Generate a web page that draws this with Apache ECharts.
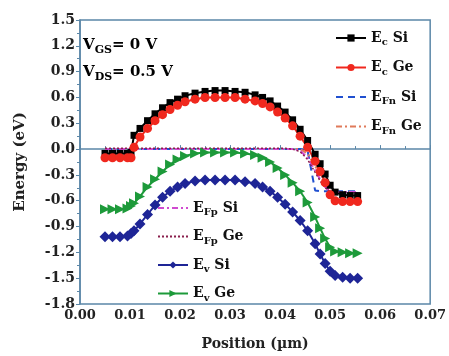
<!DOCTYPE html>
<html>
<head>
<meta charset="utf-8">
<script src="https://cdn.jsdelivr.net/npm/echarts@6/dist/echarts.min.js"></script>
<style>
  html, body { margin: 0; padding: 0; background: #fff; }
  #chart { width: 449px; height: 356px; }
</style>
</head>
<body>
<div id="chart"></div>
<script>
// positions along the channel (um), shared by all curves
const positions = [0.005, 0.0065, 0.008, 0.0095, 0.0102, 0.0108, 0.012, 0.0135, 0.015, 0.0165,
  0.018, 0.0195, 0.021, 0.023, 0.025, 0.027, 0.029, 0.031, 0.033, 0.035,
  0.0365, 0.038, 0.0395, 0.041, 0.0425, 0.044, 0.0455, 0.047, 0.048, 0.049,
  0.050, 0.051, 0.0525, 0.054, 0.0555];

const ecSi = [-0.05, -0.05, -0.05, -0.05, -0.04, 0.16, 0.24, 0.33, 0.41, 0.48,
  0.54, 0.58, 0.62, 0.65, 0.67, 0.68, 0.68, 0.67, 0.66, 0.63,
  0.60, 0.56, 0.50, 0.43, 0.34, 0.23, 0.10, -0.06, -0.17, -0.29,
  -0.42, -0.50, -0.53, -0.54, -0.54];
const ecGe = [-0.10, -0.10, -0.10, -0.10, -0.10, 0.02, 0.14, 0.24, 0.33, 0.40,
  0.46, 0.51, 0.55, 0.58, 0.60, 0.60, 0.60, 0.60, 0.58, 0.56,
  0.53, 0.49, 0.43, 0.36, 0.27, 0.15, 0.02, -0.14, -0.26, -0.39,
  -0.53, -0.60, -0.61, -0.61, -0.61];
const efnSi = [0, 0, 0, 0, 0, 0, 0, 0, 0, 0,
  0, 0, 0, 0, 0, 0, 0, 0, 0, 0,
  0, 0, 0, 0, 0, 0, -0.02, -0.48, -0.49, -0.49,
  -0.49, -0.49, -0.49, -0.49, -0.49];
const efnGe = [0, 0, 0, 0, 0, 0, 0, 0, 0, 0,
  0, 0, 0, 0, 0, 0, 0, 0, 0, 0,
  0, 0, 0, 0, 0, 0, -0.05, -0.20, -0.30, -0.40,
  -0.48, -0.50, -0.50, -0.50, -0.50];
const efpSi = [0, 0, 0, 0, 0, 0, 0, 0, 0, 0,
  0, 0, 0, 0, 0, 0, 0, 0, 0, 0,
  0, 0, 0, 0, 0, -0.02, -0.10, -0.25, -0.35, -0.44,
  -0.49, -0.50, -0.50, -0.50, -0.50];
const efpGe = [0.01, 0.01, 0.01, 0.01, 0.01, 0.01, 0.01, 0.01, 0.01, 0.01,
  0.01, 0.01, 0.01, 0.01, 0.01, 0.01, 0.01, 0.01, 0.01, 0.01,
  0.01, 0.01, 0.01, 0.01, 0.0, -0.03, -0.12, -0.27, -0.37, -0.45,
  -0.50, -0.51, -0.51, -0.51, -0.51];
const evSi = [-1.02, -1.02, -1.02, -1.01, -0.98, -0.95, -0.87, -0.76, -0.65, -0.56,
  -0.49, -0.44, -0.40, -0.37, -0.36, -0.36, -0.36, -0.36, -0.38, -0.40,
  -0.44, -0.49, -0.56, -0.64, -0.73, -0.83, -0.95, -1.10, -1.22, -1.33,
  -1.42, -1.47, -1.49, -1.50, -1.50];
const evGe = [-0.70, -0.70, -0.70, -0.69, -0.66, -0.63, -0.55, -0.44, -0.35, -0.26,
  -0.18, -0.12, -0.08, -0.05, -0.04, -0.04, -0.04, -0.04, -0.05, -0.07,
  -0.10, -0.15, -0.22, -0.30, -0.39, -0.49, -0.62, -0.79, -0.92, -1.04,
  -1.14, -1.19, -1.20, -1.21, -1.21];

const legendTop = ["Ec Si", "Ec Ge", "EFn Si", "EFn Ge"];
const legendBottom = ["EFp Si", "EFp Ge", "Ev Si", "Ev Ge"];
const lineOnly = ["EFn Si", "EFn Ge", "EFp Si", "EFp Ge"];

const FONT = "DejaVu Serif";
const AXIS = "#5b87a8";

const pairs = (ys) => positions.map((x, i) => [x, ys[i]]);
// Fermi-level entries show only their dashed line in the legend
const legendItems = (names) => names.map((n) =>
  lineOnly.includes(n) ? { name: n, itemStyle: { opacity: 0 } } : { name: n });

const richText = {
  m: { fontFamily: FONT, fontWeight: "bold", fontSize: 14, color: "#111" },
  s: { fontFamily: FONT, fontWeight: "bold", fontSize: 10, color: "#111", padding: [9, 0, 0, 0] },
};
const noteText = {
  m: { fontFamily: FONT, fontWeight: "bold", fontSize: 15, color: "#111" },
  s: { fontFamily: FONT, fontWeight: "bold", fontSize: 11, color: "#111", padding: [9, 0, 0, 0] },
};
const legendFormatter = (name) => {
  const parts = name.split(" ");
  return "{m|E}{s|" + parts[0].slice(1) + "}{m| " + parts[1] + "}";
};

const chart = echarts.init(document.getElementById("chart"), null, { renderer: "canvas" });

const option = {
  animation: false,
  backgroundColor: "#fff",
  grid: { left: 80, right: 16, top: 20, bottom: 45, show: true, borderColor: AXIS, borderWidth: 1.5 },
  legend: [
    {
      data: legendItems(legendTop), orient: "vertical", left: 330, top: 26, itemGap: 13,
      itemWidth: 30, itemHeight: 9, formatter: legendFormatter,
      textStyle: { rich: richText },
    },
    {
      data: legendItems(legendBottom), orient: "vertical", left: 152, top: 196, itemGap: 12,
      itemWidth: 30, itemHeight: 9, formatter: legendFormatter,
      textStyle: { rich: richText },
    },
  ],
  xAxis: {
    type: "value", min: 0, max: 0.07, interval: 0.01,
    name: "Position (\u00b5m)", nameLocation: "middle", nameGap: 33,
    nameTextStyle: { fontFamily: FONT, fontWeight: "bold", fontSize: 14, color: "#222" },
    axisLine: { lineStyle: { color: AXIS, width: 1.5 } },
    axisTick: { inside: true, length: 4, lineStyle: { color: AXIS } },
    minorTick: { show: true, splitNumber: 2, length: 3, lineStyle: { color: AXIS } },
    splitLine: { show: false },
    axisLabel: {
      fontFamily: FONT, fontWeight: "bold", fontSize: 13, color: "#222", margin: 5,
      formatter: (v) => v.toFixed(2),
    },
  },
  yAxis: {
    type: "value", min: -1.8, max: 1.5, interval: 0.3,
    name: "Energy (eV)", nameLocation: "middle", nameGap: 52,
    nameTextStyle: { fontFamily: FONT, fontWeight: "bold", fontSize: 15, color: "#222" },
    axisLine: { show: true, lineStyle: { color: AXIS, width: 1.5 } },
    axisTick: { show: true, length: 4, lineStyle: { color: AXIS } },
    minorTick: { show: true, splitNumber: 2, length: 3, lineStyle: { color: AXIS } },
    splitLine: { show: false },
    axisLabel: {
      fontFamily: FONT, fontWeight: "bold", fontSize: 14, color: "#222", margin: 5,
      formatter: (v) => v.toFixed(1),
    },
  },
  graphic: [
    {
      type: "text", left: 83, top: 38,
      style: { text: "{m|V}{s|GS}{m|= 0 V}", rich: noteText },
    },
    {
      type: "text", left: 83, top: 65,
      style: { text: "{m|V}{s|DS}{m|= 0.5 V}", rich: noteText },
    },
  ],
  series: [
    {
      name: "Ec Si", type: "line", data: pairs(ecSi), color: "#000",
      symbol: "rect", symbolSize: 7, lineStyle: { width: 2 },
    },
    {
      name: "Ec Ge", type: "line", data: pairs(ecGe), color: "#f0281e",
      symbol: "circle", symbolSize: 9, lineStyle: { width: 2 },
    },
    {
      name: "Ev Si", type: "line", data: pairs(evSi), color: "#1e2596",
      symbol: "diamond", symbolSize: 11, lineStyle: { width: 2 },
    },
    {
      name: "Ev Ge", type: "line", data: pairs(evGe), color: "#1d9a3a",
      symbol: "triangle", symbolRotate: -90, symbolSize: 10, lineStyle: { width: 2 },
    },
    {
      name: "EFn Si", type: "line", data: pairs(efnSi), color: "#2050d0",
      symbol: "none", lineStyle: { width: 2, type: [7, 5] },
    },
    {
      name: "EFn Ge", type: "line", data: pairs(efnGe), color: "#e07a5a",
      symbol: "none", lineStyle: { width: 2, type: [6, 3, 2, 3] },
    },
    {
      name: "EFp Si", type: "line", data: pairs(efpSi), color: "#d04ad0",
      symbol: "none", lineStyle: { width: 2, type: [6, 3, 2, 3] },
    },
    {
      name: "EFp Ge", type: "line", data: pairs(efpGe), color: "#8a1f4c",
      symbol: "none", lineStyle: { width: 1.5, type: [2, 2] },
    },
  ],
};

chart.setOption(option);
window.addEventListener("resize", () => chart.resize());
</script>
</body>
</html>
